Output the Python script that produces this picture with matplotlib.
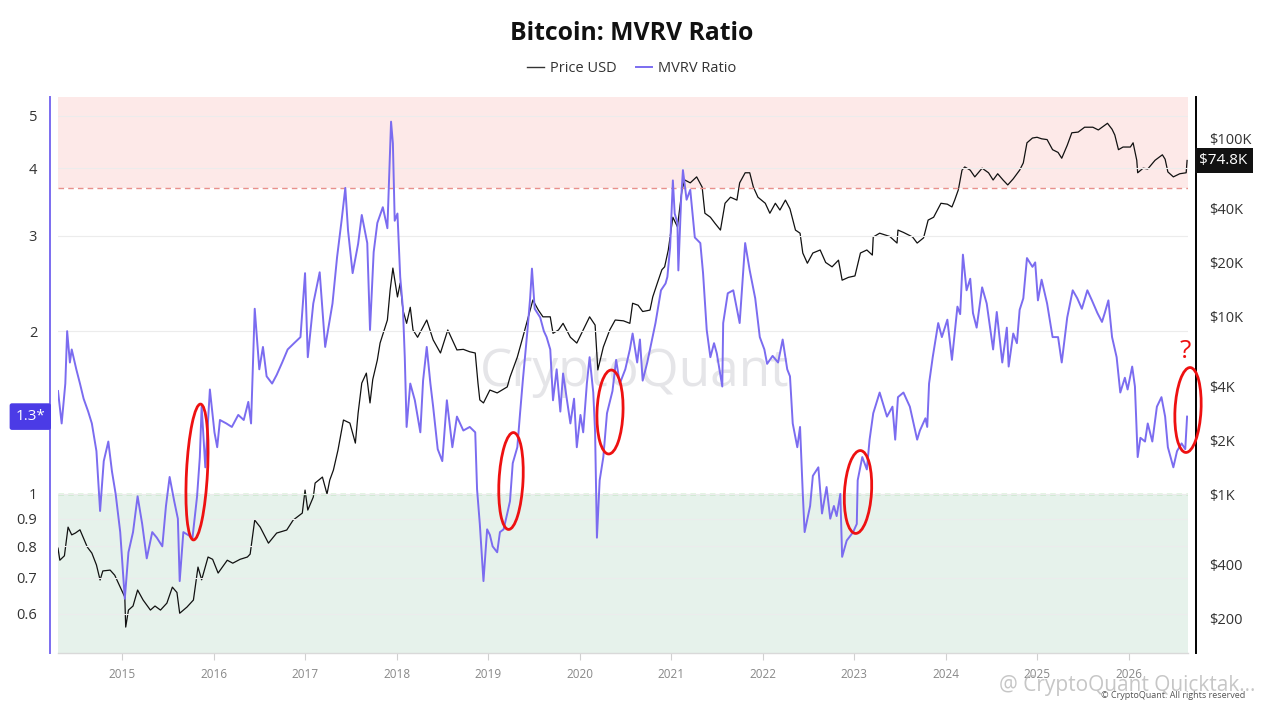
import matplotlib
matplotlib.use("Agg")
import matplotlib.pyplot as plt
from matplotlib.patches import Rectangle, Ellipse
from matplotlib.transforms import blended_transform_factory
from matplotlib.lines import Line2D

plt.rcParams['font.family'] = ['Open Sans', 'DejaVu Sans']

# ---------------- data ----------------
mvrv_years = [
    2014.30, 2014.34, 2014.38, 2014.40, 2014.43, 2014.45, 2014.50, 2014.54, 2014.58, 2014.63, 2014.67, 2014.72,
    2014.76, 2014.80, 2014.85, 2014.89, 2014.93, 2014.98,
    2015.03, 2015.07, 2015.12, 2015.17, 2015.22, 2015.27, 2015.33, 2015.38, 2015.44, 2015.48, 2015.52, 2015.57,
    2015.61, 2015.63, 2015.67, 2015.72, 2015.77, 2015.82, 2015.85, 2015.87, 2015.91, 2015.96,
    2016.01, 2016.04, 2016.07, 2016.14, 2016.20, 2016.27, 2016.33, 2016.38, 2016.41, 2016.45, 2016.50, 2016.54,
    2016.58, 2016.64, 2016.69, 2016.75, 2016.81, 2016.88, 2016.95,
    2017.00, 2017.03, 2017.09, 2017.16, 2017.22, 2017.30, 2017.35, 2017.40, 2017.44, 2017.47, 2017.52, 2017.58,
    2017.62, 2017.68, 2017.71, 2017.75, 2017.79, 2017.85, 2017.90, 2017.94, 2017.96, 2017.98,
    2018.01, 2018.04, 2018.07, 2018.09, 2018.11, 2018.15, 2018.20, 2018.26, 2018.29, 2018.33, 2018.37, 2018.40,
    2018.45, 2018.50, 2018.55, 2018.61, 2018.66, 2018.73, 2018.80, 2018.86, 2018.88, 2018.91, 2018.95, 2018.99,
    2019.02, 2019.05, 2019.10, 2019.13, 2019.17, 2019.21, 2019.24, 2019.27, 2019.32, 2019.35, 2019.38, 2019.43,
    2019.46, 2019.48, 2019.51, 2019.57, 2019.61, 2019.64, 2019.68, 2019.71, 2019.75, 2019.79, 2019.82, 2019.86,
    2019.90, 2019.94, 2019.97,
    2020.01, 2020.04, 2020.08, 2020.11, 2020.15, 2020.17, 2020.19, 2020.22, 2020.26, 2020.30, 2020.36, 2020.40,
    2020.44, 2020.50, 2020.55, 2020.58, 2020.63, 2020.66, 2020.69, 2020.74, 2020.77, 2020.83, 2020.89, 2020.94,
    2020.96, 2020.99,
    2021.02, 2021.04, 2021.07, 2021.08, 2021.11, 2021.13, 2021.17, 2021.21, 2021.26, 2021.32, 2021.35, 2021.39,
    2021.43, 2021.47, 2021.50, 2021.56, 2021.57, 2021.62, 2021.68, 2021.72, 2021.75, 2021.81, 2021.86, 2021.92,
    2021.97,
    2022.02, 2022.05, 2022.11, 2022.17, 2022.22, 2022.27, 2022.30, 2022.33, 2022.38, 2022.41, 2022.44, 2022.46,
    2022.52, 2022.55, 2022.61, 2022.65, 2022.70, 2022.74, 2022.78, 2022.81, 2022.85, 2022.87, 2022.92, 2022.99,
    2023.03, 2023.04, 2023.09, 2023.14, 2023.17, 2023.21, 2023.28, 2023.36, 2023.42, 2023.45, 2023.48, 2023.54,
    2023.61, 2023.69, 2023.72, 2023.78, 2023.80, 2023.82, 2023.86, 2023.92, 2023.96,
    2024.02, 2024.07, 2024.13, 2024.16, 2024.19, 2024.23, 2024.27, 2024.30, 2024.34, 2024.40, 2024.45, 2024.52,
    2024.56, 2024.62, 2024.67, 2024.69, 2024.74, 2024.78, 2024.81, 2024.85, 2024.89, 2024.95, 2024.98,
    2025.01, 2025.05, 2025.11, 2025.17, 2025.23, 2025.27, 2025.33, 2025.39, 2025.44, 2025.49, 2025.55, 2025.60,
    2025.66, 2025.71, 2025.74, 2025.78, 2025.82, 2025.87, 2025.91, 2025.96, 2025.99,
    2026.04, 2026.07, 2026.10, 2026.13, 2026.18, 2026.21, 2026.26, 2026.31, 2026.36, 2026.40, 2026.43, 2026.49,
    2026.53, 2026.58, 2026.62, 2026.64,
]
mvrv_ratio = [
    1.55, 1.35, 1.6, 2.0, 1.75, 1.85, 1.7, 1.6, 1.5, 1.42, 1.35, 1.2, 0.93, 1.15, 1.25, 1.1, 1.0, 0.85,
    0.64, 0.78, 0.85, 0.99, 0.88, 0.76, 0.85, 0.83, 0.80, 0.95, 1.075, 0.97, 0.90, 0.69, 0.85, 0.84, 0.83, 0.99,
    1.17, 1.45, 1.12, 1.56,
    1.3, 1.22, 1.37, 1.35, 1.33, 1.40, 1.37, 1.48, 1.35, 2.2, 1.7, 1.87, 1.65, 1.6, 1.66, 1.75, 1.85, 1.9, 1.95,
    2.56, 1.79, 2.25, 2.57, 1.87, 2.25, 2.74, 3.21, 3.68, 3.07, 2.56, 2.9, 3.28, 2.91, 2.01, 2.8, 3.17, 3.39, 3.1,
    4.88, 4.45, 3.2,
    3.3, 2.52, 2.2, 1.79, 1.33, 1.6, 1.49, 1.30, 1.62, 1.87, 1.6, 1.45, 1.21, 1.15, 1.49, 1.22, 1.39, 1.31, 1.33,
    1.30, 1.02, 0.88, 0.69, 0.86,
    0.84, 0.80, 0.78, 0.85, 0.86, 0.92, 0.97, 1.14, 1.22, 1.41, 1.62, 2.0, 2.3, 2.61, 2.2, 2.12, 2.0, 1.95, 1.85,
    1.49, 1.7, 1.42, 1.67, 1.5, 1.35, 1.5, 1.22,
    1.4, 1.3, 1.6, 1.79, 1.54, 1.3, 0.83, 1.06, 1.17, 1.41, 1.55, 1.77, 1.6, 1.7, 1.85, 1.98, 1.75, 1.93, 1.62,
    1.75, 1.85, 2.07, 2.38, 2.45, 2.52, 2.86,
    3.8, 3.3, 3.17, 2.59, 3.5, 3.97, 3.5, 3.65, 2.98, 2.91, 2.56, 2.01, 1.79, 1.9, 1.82, 1.58, 2.07, 2.35, 2.38,
    2.2, 2.07, 2.91, 2.59, 2.3, 1.95,
    1.85, 1.74, 1.8, 1.75, 1.93, 1.7, 1.65, 1.35, 1.22, 1.33, 1.0, 0.85, 0.95, 1.08, 1.12, 0.92, 1.03, 0.9, 0.95,
    0.91, 1.0, 0.765, 0.82, 0.85,
    0.88, 1.06, 1.17, 1.11, 1.26, 1.41, 1.54, 1.39, 1.45, 1.26, 1.51, 1.54, 1.45, 1.26, 1.31, 1.38, 1.33, 1.6,
    1.79, 2.07, 1.95,
    2.1, 1.77, 2.22, 2.15, 2.77, 2.38, 2.5, 2.16, 2.03, 2.41, 2.25, 1.85, 2.17, 1.75, 2.03, 1.72, 1.98, 1.9, 2.19,
    2.3, 2.73, 2.63, 2.68,
    2.28, 2.49, 2.25, 1.95, 1.95, 1.75, 2.12, 2.38, 2.3, 2.2, 2.38, 2.28, 2.16, 2.08, 2.16, 2.28, 1.95, 1.79, 1.54,
    1.64, 1.56,
    1.72, 1.58, 1.17, 1.27, 1.25, 1.35, 1.25, 1.45, 1.51, 1.39, 1.22, 1.12, 1.2, 1.24, 1.21, 1.39,
]

price_years = [
    2014.30, 2014.32, 2014.37, 2014.41, 2014.45, 2014.49, 2014.54, 2014.62, 2014.67, 2014.72, 2014.76, 2014.79,
    2014.87, 2014.92, 2014.98,
    2015.03, 2015.04, 2015.07, 2015.12, 2015.17, 2015.23, 2015.31, 2015.36, 2015.42, 2015.49, 2015.55, 2015.60,
    2015.63, 2015.71, 2015.78, 2015.83, 2015.87, 2015.94, 2015.99,
    2016.05, 2016.15, 2016.21, 2016.29, 2016.37, 2016.40, 2016.45, 2016.51, 2016.60, 2016.69, 2016.80, 2016.87,
    2016.97,
    2017.00, 2017.03, 2017.09, 2017.11, 2017.19, 2017.24, 2017.27, 2017.31, 2017.36, 2017.42, 2017.49, 2017.55,
    2017.58, 2017.62, 2017.67, 2017.71, 2017.74, 2017.79, 2017.82, 2017.90, 2017.93, 2017.96, 2017.98,
    2018.01, 2018.04, 2018.07, 2018.11, 2018.15, 2018.18, 2018.23, 2018.33, 2018.40, 2018.48, 2018.56, 2018.66,
    2018.73, 2018.80, 2018.86, 2018.89, 2018.91, 2018.95,
    2019.02, 2019.10, 2019.21, 2019.24, 2019.32, 2019.38, 2019.46, 2019.49, 2019.55, 2019.60, 2019.68, 2019.71,
    2019.77, 2019.82, 2019.90, 2019.97,
    2020.04, 2020.11, 2020.17, 2020.20, 2020.26, 2020.33, 2020.39, 2020.48, 2020.55, 2020.58, 2020.64, 2020.69,
    2020.77, 2020.80, 2020.85, 2020.90, 2020.93, 2020.97,
    2021.02, 2021.07, 2021.12, 2021.15, 2021.21, 2021.28, 2021.34, 2021.37, 2021.43, 2021.48, 2021.54, 2021.59,
    2021.65, 2021.72, 2021.75, 2021.81, 2021.86, 2021.90, 2021.95,
    2022.03, 2022.08, 2022.14, 2022.19, 2022.25, 2022.30, 2022.36, 2022.41, 2022.44, 2022.49, 2022.55, 2022.63,
    2022.69, 2022.76, 2022.83, 2022.87, 2022.94,
    2023.01, 2023.07, 2023.14, 2023.20, 2023.21, 2023.28, 2023.39, 2023.47, 2023.48, 2023.54, 2023.64, 2023.69,
    2023.76, 2023.81, 2023.87, 2023.95,
    2024.02, 2024.07, 2024.10, 2024.14, 2024.18, 2024.21, 2024.27, 2024.32, 2024.40, 2024.47, 2024.52, 2024.57,
    2024.63, 2024.68, 2024.74, 2024.81, 2024.85, 2024.89, 2024.95,
    2025.00, 2025.05, 2025.11, 2025.17, 2025.23, 2025.27, 2025.33, 2025.38, 2025.45, 2025.52, 2025.61, 2025.67,
    2025.77, 2025.82, 2025.85, 2025.89, 2025.94,
    2026.02, 2026.05, 2026.09, 2026.10, 2026.16, 2026.21, 2026.29, 2026.37, 2026.40, 2026.43, 2026.49, 2026.56,
    2026.63, 2026.64,
]
price_usd = [
    497, 425, 450, 652, 590, 604, 630, 504, 466, 400, 329, 370, 374, 350, 300,
    264, 179, 223, 235, 289, 254, 223, 235, 223, 244, 300, 280, 214, 232, 254, 389, 330, 443, 430,
    360, 425, 409, 430, 443, 460, 714, 652, 530, 604, 628, 714, 782,
    1053, 813, 962, 1153, 1246, 1000, 1198, 1364, 1767, 2606, 2505, 1933, 2850, 4200, 4780, 3250, 4400, 5660,
    7050, 9500, 14000, 18600, 16000,
    12800, 15300, 10800, 9100, 11200, 8350, 7600, 9500, 7350, 6200, 8350, 6450, 6500, 6300, 6200, 4200, 3380,
    3250,
    3840, 3700, 4000, 4540, 5880, 7600, 10800, 12300, 10800, 9900, 9900, 8000, 8350, 9100, 7600, 7050,
    8350, 9900, 8900, 4980, 6700, 8350, 9500, 9400, 9100, 11800, 11500, 10600, 10800, 12800, 15300, 18200,
    18900, 23500,
    35900, 31700, 51200, 58100, 56000, 60500, 53000, 37800, 35900, 33200, 30400, 43000, 46500, 44800, 56000,
    63800, 63800, 53000, 46500,
    43000, 37800, 43000, 39400, 44800, 40000, 30400, 29200, 22600, 19800, 22600, 23500, 20000, 18900, 20600,
    15900, 16500,
    16800, 22600, 23500, 22000, 27800, 29200, 28000, 25700, 30400, 29500, 27800, 25700, 27500, 34600, 35900,
    43000,
    42500, 41000, 44800, 51200, 66000, 68800, 66000, 60500, 67700, 63800, 58100, 63000, 58000, 54500, 59000,
    66000, 72500, 94000, 100000,
    101000, 99000, 98000, 86000, 83000, 77000, 91000, 107000, 108000, 115000, 115000, 111000, 121000, 112000,
    104000, 86000, 89000,
    89000, 94000, 75000, 63800, 67700, 67000, 75000, 80500, 76000, 64500, 60500, 63000, 63800, 74800,
]

year_ticks = list(range(2015, 2027))
mvrv_ticks = [0.6, 0.7, 0.8, 0.9, 1, 2, 3, 4, 5]
mvrv_tick_labels = ["0.6", "0.7", "0.8", "0.9", "1", "2", "3", "4", "5"]
price_ticks = [200, 400, 1000, 2000, 4000, 10000, 20000, 40000, 100000]
price_tick_labels = ["$200", "$400", "$1K", "$2K", "$4K", "$10K", "$20K", "$40K", "$100K"]
overheated_level = 3.68
undervalued_level = 1.0
mvrv_badge = "1.3*"
price_badge = "$74.8K"

# ---------------- styling ----------------
PURPLE = '#7B6CF0'
BADGE_PURPLE = '#4B3BE6'
W, H = 1264, 706

fig = plt.figure(figsize=(W / 100, H / 100), dpi=100)
ax = fig.add_axes([58 / W, 1 - 653 / H, (1188 - 58) / W, (653 - 97) / H])
ax2 = ax.twinx()

# ax (MVRV) drawn on top of ax2 (price)
ax.set_zorder(2)
ax.patch.set_visible(False)
ax2.set_zorder(1)
ax2.patch.set_visible(True)
ax2.patch.set_facecolor('white')

ax.set_yscale('log')
ax2.set_yscale('log')
ax.set_ylim(0.508, 5.42)
ax2.set_ylim(128, 170000)
ax.set_xlim(2014.30, 2026.65)

# shaded zones (placed on the lower axes so lines draw above them)
tr = blended_transform_factory(ax.transAxes, ax.transData)
ax2.add_patch(Rectangle((0, overheated_level), 1, 100 - overheated_level, transform=tr,
                        facecolor='#FDE9E8', edgecolor='none', zorder=0))
ax2.add_patch(Rectangle((0, 0.01), 1, undervalued_level - 0.01, transform=tr,
                        facecolor='#E6F2EB', edgecolor='none', zorder=0))

# watermark
ax2.text(0.51, 0.505, "CryptoQuant", transform=ax2.transAxes, ha='center', va='center',
         fontsize=37, color='#d0d0d6', alpha=0.55, zorder=0.5)

# lines
price_line, = ax2.plot(price_years, price_usd, color='#111111', lw=0.9, zorder=3)
mvrv_line, = ax.plot(mvrv_years, mvrv_ratio, color=PURPLE, lw=1.4, zorder=3)

ax.axhline(overheated_level, color='#E8908C', lw=1.0, ls=(0, (4, 3)), zorder=1)
ax.axhline(undervalued_level, color='#79CC74', lw=1.0, ls=(0, (4, 3)), zorder=1)

# ticks & grid
ax.set_yticks(mvrv_ticks)
ax.set_yticklabels(mvrv_tick_labels)
ax.yaxis.set_minor_locator(matplotlib.ticker.NullLocator())
ax.grid(axis='y', color='#ececec', lw=0.8, zorder=0)
ax.grid(axis='x', visible=False)

ax2.set_yticks(price_ticks)
ax2.set_yticklabels(price_tick_labels)
ax2.yaxis.set_minor_locator(matplotlib.ticker.NullLocator())

ax.set_xticks(year_ticks)
ax.set_xticklabels([str(y) for y in year_ticks])

# spines
for s in ['top', 'right']:
    ax.spines[s].set_visible(False)
ax.spines['left'].set_position(('outward', 6))
ax.spines['left'].set_color(PURPLE)
ax.spines['left'].set_linewidth(1.4)
ax.spines['bottom'].set_color('#d9d9d9')
ax.spines['bottom'].set_linewidth(1.0)
for s in ['top', 'left', 'bottom']:
    ax2.spines[s].set_visible(False)
ax2.spines['right'].set_position(('outward', 6))
ax2.spines['right'].set_color('#000000')
ax2.spines['right'].set_linewidth(1.4)

ax.tick_params(axis='y', length=0, pad=9, labelsize=10.5, labelcolor='#333333')
ax2.tick_params(axis='y', length=0, pad=9, labelsize=10.5, labelcolor='#333333')
ax.tick_params(axis='x', length=5, width=0.8, color='#d0d0d0', pad=6, labelsize=8.5, labelcolor='#888888')

# title & legend
fig.text(0.5, 1 - 34 / H, "Bitcoin: MVRV Ratio", ha='center', va='center',
         fontsize=17.8, fontweight='bold', color='#111111')
fig.legend(handles=[Line2D([], [], color='#333333', lw=1.0), Line2D([], [], color=PURPLE, lw=1.4)],
           labels=["Price USD", "MVRV Ratio"], loc='center', bbox_to_anchor=(0.5, 1 - 69 / H),
           ncol=2, frameon=False, fontsize=10.5, handlelength=1.1, handletextpad=0.45,
           columnspacing=1.3, labelcolor='#333333')

# last-value badges
trl = blended_transform_factory(ax.transAxes, ax.transData)
ax.text(-0.0245, mvrv_ratio[-1], mvrv_badge, transform=trl, ha='center', va='center', fontsize=11,
        color='white', clip_on=False, zorder=10,
        bbox=dict(boxstyle='round,pad=0.38,rounding_size=0.15', facecolor=BADGE_PURPLE, edgecolor='none'))
trr = blended_transform_factory(ax2.transAxes, ax2.transData)
ax2.text(1.0315, price_usd[-1], price_badge, transform=trr, ha='center', va='center', fontsize=11,
         color='white', clip_on=False, zorder=10,
         bbox=dict(boxstyle='square,pad=0.32', facecolor='#111111', edgecolor='none'))

# hand-drawn annotation ellipses (figure pixel positions)
def add_ellipse(cx, cy, w, h, ang):
    fig.add_artist(Ellipse((cx / 100, (H - cy) / 100), w / 100, h / 100, angle=ang,
                           transform=fig.dpi_scale_trans, fill=False, edgecolor='#EE1111', lw=2.0,
                           zorder=20))

add_ellipse(197, 472, 21, 136, -3)
add_ellipse(511, 481, 24, 97, -3)
add_ellipse(610, 412, 26, 84, -2)
add_ellipse(858, 492, 27, 83, -3.5)
add_ellipse(1188, 410, 26, 85, -3)
fig.text(1185 / W, 1 - 352 / H, "?", ha='center', va='center', fontsize=19, color='#EE1111', zorder=20)

# footer texts
fig.text(1245 / W, 1 - 695 / H, "© CryptoQuant. All rights reserved", ha='right', va='center',
         fontsize=6.5, color='#555555')
fig.text(1255 / W, 1 - 685 / H, "@ CryptoQuant Quicktak...", ha='right', va='center',
         fontsize=15, color='#b8b8b8', alpha=0.8)

fig.savefig("out.png", dpi=100)
